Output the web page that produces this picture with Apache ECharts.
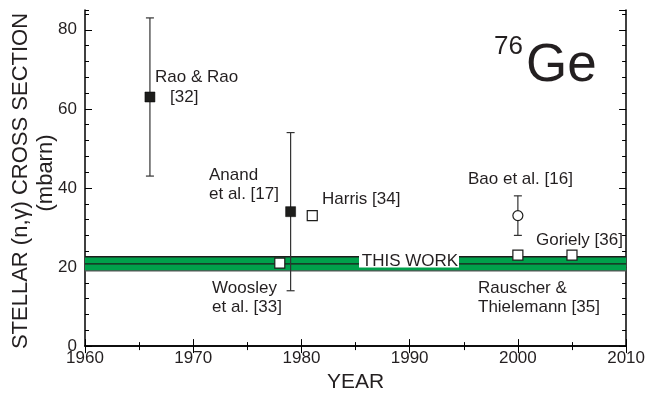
<!DOCTYPE html>
<html>
<head>
<meta charset="utf-8">
<script src="https://cdn.jsdelivr.net/npm/echarts@6/dist/echarts.min.js"></script>
<style>
  html, body { margin: 0; padding: 0; background: #fff; }
  #chart { width: 648px; height: 398px; }
</style>
</head>
<body>
<div id="chart"></div>
<script>
// Stellar (n,gamma) cross section of 76Ge, mbarn, by year of publication
const filledYears   = [1966, 1979];          // Rao & Rao, Anand et al.
const filledValues  = [63, 34];
const filledErrors  = [20, 20];

const openSquareYears  = [1978, 1981, 2000, 2005]; // Woosley, Harris, Rauscher & Thielemann, Goriely
const openSquareValues = [21, 33, 23, 23];

const circleYears  = [2000];                 // Bao et al.
const circleValues = [33];
const circleErrors = [5];

const bandValue = 20.8;                      // this work
const bandError = 1.8;

const xMin = 1960, xMax = 2010, xStep = 10;
const yMin = 0, yMax = 85, yStep = 20, yMinorStep = 4;

const FONT = '"Liberation Sans", Arial, Helvetica, sans-serif';
const INK = '#231f20';

const chart = echarts.init(document.getElementById('chart'), null, { renderer: 'canvas' });

function pairs(xs, ys) { return xs.map((x, i) => [x, ys[i]]); }

const errorData = pairs(filledYears, filledValues).map((p, i) => [p[0], p[1] - filledErrors[i], p[1] + filledErrors[i]])
  .concat(pairs(circleYears, circleValues).map((p, i) => [p[0], p[1] - circleErrors[i], p[1] + circleErrors[i]]));

const bandData = [[xMin, xMax, bandValue - bandError, bandValue, bandValue + bandError]];

const baseX = {
  type: 'value', min: xMin, max: xMax, interval: xStep,
  axisLine: { show: true, lineStyle: { color: '#000', width: 1.5 } },
  axisTick: { show: true, inside: true, length: 7, lineStyle: { color: '#000', width: 1 } },
  minorTick: { show: true, splitNumber: 2, length: 4, lineStyle: { color: '#000', width: 1 } },
  splitLine: { show: false },
  axisLabel: { show: false }
};

function yAxisDef(position, step, tickLen, labels, line) {
  return {
    type: 'value', position: position, min: yMin, max: yMax, interval: step, offset: 0,
    axisLine: { show: line, lineStyle: { color: '#000', width: 1.5 } },
    axisTick: { show: true, inside: true, length: tickLen, lineStyle: { color: '#000', width: 1 } },
    splitLine: { show: false },
    axisLabel: labels ? { show: true, fontSize: 17, color: INK, fontFamily: FONT, margin: 8, showMaxLabel: false } : { show: false }
  };
}

function label(text, x, y, size) {
  return {
    type: 'text', x: x, y: y, z: 100,
    style: { text: text, font: (size || 17) + 'px ' + FONT, fill: INK, textAlign: 'left', textVerticalAlign: 'middle' }
  };
}

chart.setOption({
  animation: false,
  backgroundColor: '#fff',
  grid: { left: 85, right: 20, top: 10, bottom: 49, containLabel: false },
  xAxis: [
    Object.assign({}, baseX, {
      position: 'bottom',
      axisLabel: { show: true, fontSize: 17, color: INK, fontFamily: FONT, margin: 4, formatter: v => String(v) },
      name: 'YEAR', nameLocation: 'middle', nameGap: 25,
      nameTextStyle: { fontSize: 21, color: INK, fontFamily: FONT }
    }),
    Object.assign({}, baseX, { position: 'top' })
  ],
  yAxis: [
    yAxisDef('left', yStep, 7, true, true),
    yAxisDef('left', yMinorStep, 4, false, false),
    yAxisDef('right', yStep, 7, false, true),
    yAxisDef('right', yMinorStep, 4, false, false)
  ],
  series: [
    {
      // band for the present result with its uncertainty
      type: 'custom', xAxisIndex: 0, yAxisIndex: 0, z: 1,
      data: bandData,
      renderItem: function (params, api) {
        const l = api.coord([api.value(0), api.value(2)]);
        const r = api.coord([api.value(1), api.value(4)]);
        const m0 = api.coord([api.value(0), api.value(3)]);
        const m1 = api.coord([api.value(1), api.value(3)]);
        const lo = l[1], hi = r[1];
        return {
          type: 'group',
          children: [
            { type: 'rect', shape: { x: l[0], y: hi, width: r[0] - l[0], height: lo - hi }, style: { fill: '#00a04b' } },
            { type: 'line', shape: { x1: l[0], y1: hi, x2: r[0], y2: hi }, style: { stroke: '#1d1d1b', lineWidth: 1.3 } },
            { type: 'line', shape: { x1: m0[0], y1: m0[1], x2: m1[0], y2: m1[1] }, style: { stroke: '#1d1d1b', lineWidth: 1.3 } },
            { type: 'line', shape: { x1: l[0], y1: lo, x2: r[0], y2: lo }, style: { stroke: '#555', lineWidth: 1.3 } }
          ]
        };
      }
    },
    {
      // error bars
      type: 'custom', xAxisIndex: 0, yAxisIndex: 0, z: 3,
      data: errorData,
      renderItem: function (params, api) {
        const top = api.coord([api.value(0), api.value(2)]);
        const bot = api.coord([api.value(0), api.value(1)]);
        const w = 4;
        const st = { stroke: '#333', lineWidth: 1.2 };
        return {
          type: 'group',
          children: [
            { type: 'line', shape: { x1: top[0], y1: top[1], x2: bot[0], y2: bot[1] }, style: st },
            { type: 'line', shape: { x1: top[0] - w, y1: top[1], x2: top[0] + w, y2: top[1] }, style: st },
            { type: 'line', shape: { x1: bot[0] - w, y1: bot[1], x2: bot[0] + w, y2: bot[1] }, style: st }
          ]
        };
      }
    },
    {
      type: 'scatter', xAxisIndex: 0, yAxisIndex: 0, z: 5,
      data: pairs(filledYears, filledValues),
      symbol: 'rect', symbolSize: 10,
      itemStyle: { color: '#1d1d1b', borderColor: '#000', borderWidth: 0.5, opacity: 1 }
    },
    {
      type: 'scatter', xAxisIndex: 0, yAxisIndex: 0, z: 5,
      data: pairs(openSquareYears, openSquareValues),
      symbol: 'rect', symbolSize: 10,
      itemStyle: { color: '#fff', borderColor: '#1d1d1b', borderWidth: 1.2, opacity: 1 }
    },
    {
      type: 'scatter', xAxisIndex: 0, yAxisIndex: 0, z: 5,
      data: pairs(circleYears, circleValues),
      symbol: 'circle', symbolSize: 10,
      itemStyle: { color: '#fff', borderColor: '#1d1d1b', borderWidth: 1.2, opacity: 1 }
    }
  ],
  graphic: [
    {
      type: 'text', x: 21, y: 181, rotation: Math.PI / 2, z: 100,
      style: { text: 'STELLAR (n,\u03b3) CROSS SECTION', font: '22px ' + FONT, fill: INK, textAlign: 'center', textVerticalAlign: 'middle' }
    },
    {
      type: 'text', x: 46, y: 173, rotation: Math.PI / 2, z: 100,
      style: { text: '(mbarn)', font: '22px ' + FONT, fill: INK, textAlign: 'center', textVerticalAlign: 'middle' }
    },
    {
      type: 'rect', z: 90,
      shape: { x: 359, y: 253.5, width: 100, height: 14 },
      style: { fill: '#fff' }
    },
    {
      type: 'text', x: 410, y: 261, z: 100,
      style: { text: 'THIS WORK', font: '17px ' + FONT, fill: INK, textAlign: 'center', textVerticalAlign: 'middle' }
    },
    label('Rao & Rao', 155, 77),
    label('[32]', 170, 97),
    label('Anand', 209, 175),
    label('et al. [17]', 209, 194),
    label('Harris [34]', 322, 199),
    label('Woosley', 212, 288),
    label('et al. [33]', 212, 307),
    label('Bao et al. [16]', 468, 179),
    label('Goriely [36]', 536, 240),
    label('Rauscher &', 478, 288),
    label('Thielemann [35]', 478, 307),
    {
      type: 'text', x: 494, y: 47, z: 100,
      style: { text: '76', font: '26px ' + FONT, fill: INK, textAlign: 'left', textVerticalAlign: 'middle' }
    },
    {
      type: 'text', x: 526, y: 66, z: 100,
      style: { text: 'Ge', font: '53px ' + FONT, fill: INK, textAlign: 'left', textVerticalAlign: 'middle' }
    }
  ]
});
</script>
</body>
</html>
